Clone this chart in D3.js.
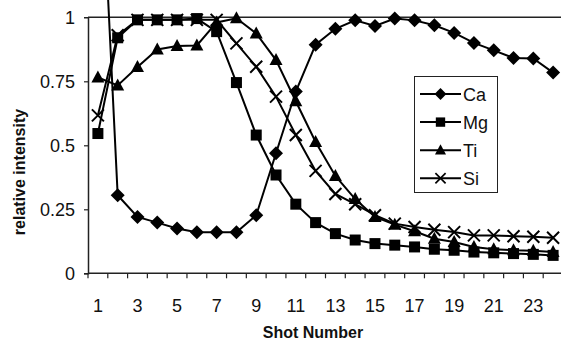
<!DOCTYPE html>
<html>
<head>
<meta charset="utf-8">
<script src="https://cdn.jsdelivr.net/npm/d3@7"></script>
<style>
  body { margin: 0; background: #fff; }
  svg { display: block; font-family: "Liberation Sans", Arial, sans-serif; }
</style>
</head>
<body>
<svg id="chart" width="561" height="347"></svg>
<script>
var shots = d3.range(1, 25);
var xLabels = [1, 3, 5, 7, 9, 11, 13, 15, 17, 19, 21, 23];
var yTicks = [0, 0.25, 0.5, 0.75, 1];

var ca = [1.89, 0.305, 0.22, 0.198, 0.175, 0.16, 0.16, 0.16, 0.227, 0.469, 0.71, 0.893,
          0.955, 0.988, 0.966, 0.995, 0.988, 0.969, 0.939, 0.90, 0.871, 0.841, 0.839, 0.784];
var mg = [0.546, 0.92, 0.99, 0.99, 0.99, 0.995, 0.944, 0.745, 0.54, 0.384, 0.27, 0.198,
          0.155, 0.13, 0.116, 0.11, 0.103, 0.094, 0.09, 0.083, 0.08, 0.077, 0.074, 0.07];
var ti = [0.765, 0.734, 0.806, 0.874, 0.888, 0.89, 0.98, 0.996, 0.937, 0.833, 0.672, 0.513,
          0.38, 0.29, 0.22, 0.19, 0.164, 0.135, 0.122, 0.103, 0.094, 0.09, 0.088, 0.083];
var si = [0.617, 0.93, 0.99, 0.99, 0.99, 0.99, 0.99, 0.898, 0.807, 0.69, 0.54, 0.40,
          0.31, 0.27, 0.227, 0.194, 0.181, 0.17, 0.161, 0.148, 0.148, 0.145, 0.143, 0.139];

var seriesNames = ["Ca", "Mg", "Ti", "Si"];
var seriesValues = [ca, mg, ti, si];
var seriesMarks = ["diamond", "square", "triangle", "cross"];

var svg = d3.select("#chart");
var plotLeft = 88, plotRight = 563, plotTop = 17.3, plotBottom = 273.3;

var x = d3.scaleBand().domain(shots).range([plotLeft, plotRight]).paddingInner(0).paddingOuter(0);
var y = d3.scaleLinear().domain([0, 1]).range([plotBottom, plotTop]);

function cx(d) { return x(d) + x.bandwidth() / 2; }

// marker shapes, drawn around (0,0)
function drawMarker(g, type, s) {
    s = s || 1;
    if (type === "diamond") {
        g.append("path").attr("d", "M0,-7L7,0L0,7L-7,0Z").attr("fill", "#000");
    } else if (type === "square") {
        g.append("rect").attr("x", -5.5).attr("y", -5.5).attr("width", 11).attr("height", 11).attr("fill", "#000");
    } else if (type === "triangle") {
        g.append("path").attr("d", "M0,-7L6.5,5L-6.5,5Z").attr("fill", "#000");
    } else {
        g.append("path").attr("d", "M-6,-6L6,6M-6,6L6,-6")
            .attr("stroke", "#000").attr("stroke-width", 2).attr("fill", "none");
    }
    g.attr("transform", g.attr("transform") + " scale(" + s + ")");
}

// top line at 1
svg.append("line")
    .attr("x1", plotLeft).attr("x2", 561)
    .attr("y1", y(1)).attr("y2", y(1))
    .attr("stroke", "#222").attr("stroke-width", 1.5);

// y axis
var yAxis = d3.axisLeft(y).tickValues(yTicks).tickSize(4).tickPadding(9)
    .tickFormat(function (d) { return String(d); });
var gy = svg.append("g").attr("transform", "translate(" + plotLeft + ",0)").call(yAxis);
gy.select(".domain").attr("stroke", "#222").attr("stroke-width", 1.5);
gy.selectAll(".tick line").attr("stroke", "#222").attr("stroke-width", 1.2);
gy.selectAll(".tick text").attr("font-size", 18).attr("fill", "#111")
    .attr("font-family", "Liberation Sans, Arial, sans-serif");
gy.selectAll(".tick").filter(function (d) { return d === 1; }).select("line").remove();

// x axis: line, boundary ticks, labels at odd shots
var gx = svg.append("g");
gx.append("line").attr("x1", plotLeft).attr("x2", 561)
    .attr("y1", plotBottom).attr("y2", plotBottom)
    .attr("stroke", "#222").attr("stroke-width", 1.5);
var edges = shots.map(function (d) { return x(d); }).concat([x(24) + x.bandwidth()]);
gx.selectAll(".xt").data(edges).enter().append("line")
    .attr("x1", function (d) { return d; }).attr("x2", function (d) { return d; })
    .attr("y1", plotBottom).attr("y2", plotBottom + 5)
    .attr("stroke", "#222").attr("stroke-width", 1.2);
gx.selectAll(".xl").data(xLabels).enter().append("text")
    .attr("x", cx).attr("y", 312)
    .attr("text-anchor", "middle").attr("font-size", 18).attr("fill", "#111")
    .text(function (d) { return d; });

// axis titles
svg.append("text").attr("x", 313).attr("y", 338)
    .attr("text-anchor", "middle").attr("font-size", 16).attr("font-weight", "bold")
    .attr("fill", "#111").text("Shot Number");
svg.append("text").attr("transform", "translate(25,172) rotate(-90)")
    .attr("text-anchor", "middle").attr("font-size", 16).attr("font-weight", "bold")
    .attr("fill", "#111").text("relative intensity");

// series
var line = d3.line().x(function (d, i) { return cx(shots[i]); }).y(function (d) { return y(d); });
seriesValues.forEach(function (vals, k) {
    svg.append("path").datum(vals).attr("d", line)
        .attr("fill", "none").attr("stroke", "#000").attr("stroke-width", 2);
    vals.forEach(function (v, i) {
        var g = svg.append("g").attr("transform", "translate(" + cx(shots[i]) + "," + y(v) + ")");
        drawMarker(g, seriesMarks[k]);
    });
});

// legend
var lg = svg.append("g");
lg.append("rect").attr("x", 414.5).attr("y", 76.5).attr("width", 83).attr("height", 116)
    .attr("fill", "#fff").attr("stroke", "#222").attr("stroke-width", 1);
var legendY = d3.scalePoint().domain(seriesNames).range([94, 178.3]);
seriesNames.forEach(function (name, k) {
    var yy = legendY(name);
    lg.append("line").attr("x1", 420).attr("x2", 461).attr("y1", yy).attr("y2", yy)
        .attr("stroke", "#000").attr("stroke-width", 2);
    drawMarker(lg.append("g").attr("transform", "translate(440.5," + yy + ")"), seriesMarks[k], 0.85);
    lg.append("text").attr("x", 463).attr("y", yy + 6.5).attr("font-size", 18)
        .attr("fill", "#111").text(name);
});
</script>
</body>
</html>
